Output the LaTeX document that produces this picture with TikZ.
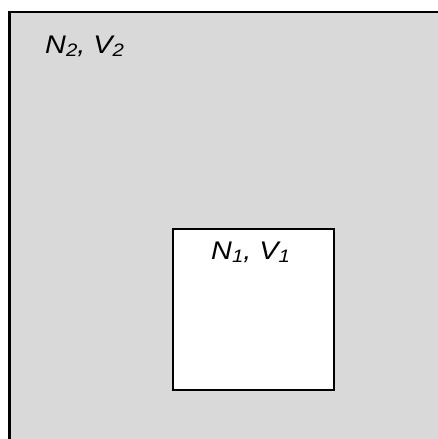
\documentclass[tikz,border=0pt]{standalone}
\usepackage{graphicx}
\usepackage{fontspec}
\setmainfont{Liberation Sans}
\definecolor{boxgray}{HTML}{D9D9D9}
\newcommand{\sym}[2]{#1\raisebox{-3.5pt}{\fontsize{18}{18}\selectfont #2}}
\newcommand{\lbl}[1]{\scalebox{1.13}[1]{\itshape\fontsize{25.5}{30}\selectfont #1}}
\begin{document}
\begin{tikzpicture}[x=1pt,y=-1pt,
  region/.style={draw=black, inner sep=0pt, anchor=north west},
  label/.style={inner sep=0pt, anchor=base west}]
\useasboundingbox (0,0) rectangle (438,439);
\clip (0,0) rectangle (438,439);
\fill[white] (0,0) rectangle (438,439);
\node[region, line width=2.5pt, fill=boxgray, minimum width=480pt, minimum height=480pt] (outer) at (8,10.5) {};
\node[region, line width=2pt, fill=white, minimum width=161pt, minimum height=161pt] (inner) at (172,228) {};
\node[label] (t2) at (45,53) {\lbl{\sym{N}{2}, \sym{V}{2}}};
\node[label] (t1) at (211,259) {\lbl{\sym{N}{1}, \sym{V}{1}}};
\end{tikzpicture}
\end{document}
